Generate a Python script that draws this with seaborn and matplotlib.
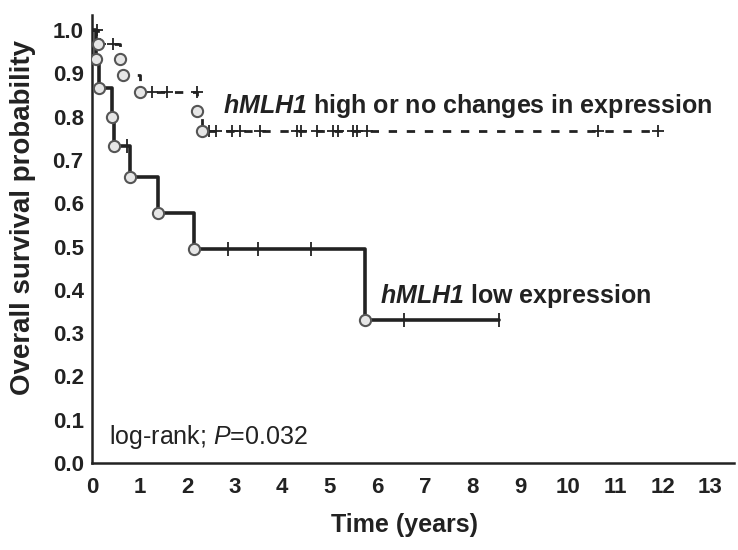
import numpy as np
import pandas as pd
import seaborn as sns
import matplotlib.pyplot as plt

# Kaplan-Meier step points (event times and survival after each event)
low_times = [0.0, 0.08, 0.15, 0.42, 0.47, 0.80, 1.38, 2.15, 5.73]
low_surv = [1.0, 0.933, 0.867, 0.800, 0.733, 0.660, 0.577, 0.495, 0.330]
low_end = 8.55
low_censor = [0.74, 2.85, 3.48, 4.60, 6.55, 8.55]

high_times = [0.0, 0.12, 0.58, 0.66, 1.00, 2.21, 2.32]
high_surv = [1.0, 0.967, 0.933, 0.895, 0.857, 0.814, 0.767]
high_end = 11.9
high_censor = [0.10, 0.17, 0.45, 1.26, 1.58, 2.20, 2.45, 2.60, 2.95, 3.12,
               3.54, 4.32, 4.40, 4.74, 5.07, 5.18, 5.49, 5.58, 5.79, 10.65, 11.9]

x_ticks = list(range(0, 14))
y_ticks = [round(v * 0.1, 1) for v in range(0, 11)]


def step_frame(times, surv, end):
    return pd.DataFrame({"t": list(times) + [end], "s": list(surv) + [surv[-1]]})


def surv_at(times, surv, pts):
    idx = np.searchsorted(times, pts, side="right") - 1
    return [surv[i] for i in idx]


sns.set_theme(style="white")
plt.rcParams["font.family"] = ["Liberation Sans", "DejaVu Sans"]
plt.rcParams["mathtext.fontset"] = "custom"
plt.rcParams["mathtext.rm"] = "Liberation Sans"
plt.rcParams["mathtext.it"] = "Liberation Sans:italic"
# bold-italic gene name
plt.rcParams["mathtext.bf"] = "Liberation Sans:italic:bold"

ink = "#222222"
fig = plt.figure(figsize=(7.38, 5.5), dpi=100)
ax = fig.add_axes([0.1247, 0.158, 0.8699, 0.815])

low_df = step_frame(low_times, low_surv, low_end)
high_df = step_frame(high_times, high_surv, high_end)

sns.lineplot(data=high_df, x="t", y="s", drawstyle="steps-post", estimator=None,
             sort=False, color=ink, lw=2, ax=ax)
ax.lines[-1].set_linestyle((0, (3, 3.5)))
sns.lineplot(data=low_df, x="t", y="s", drawstyle="steps-post", estimator=None,
             sort=False, color=ink, lw=2.6, ax=ax)

# censor marks
sns.scatterplot(x=low_censor, y=surv_at(low_times, low_surv, low_censor),
                marker="|", s=110, color=ink, linewidth=1.3, ax=ax, zorder=4)
sns.scatterplot(x=high_censor, y=surv_at(high_times, high_surv, high_censor),
                marker="+", s=80, color=ink, linewidth=1.3, ax=ax, zorder=4)

# event circles
sns.scatterplot(x=low_times[1:], y=low_surv[1:], marker="o", s=65,
                facecolor="#e6e6e6", edgecolor="#555555", linewidth=1.5, ax=ax, zorder=5)
sns.scatterplot(x=high_times[1:], y=high_surv[1:], marker="o", s=65,
                facecolor="#e6e6e6", edgecolor="#555555", linewidth=1.5, ax=ax, zorder=5)

ax.set_xlim(0, 13.5)
ax.set_ylim(0, 1.035)
ax.set_xticks(x_ticks)
ax.set_yticks(y_ticks)
ax.set_yticklabels([f"{v:.1f}" for v in y_ticks])
for sp in ["top", "right"]:
    ax.spines[sp].set_visible(False)
for sp in ["left", "bottom"]:
    ax.spines[sp].set_color(ink)
    ax.spines[sp].set_linewidth(1.8)
ax.tick_params(axis="both", direction="in", length=3, width=1.2, color=ink,
               labelsize=16, labelcolor=ink)
ax.tick_params(axis="x", pad=10)
ax.tick_params(axis="y", pad=6)
for lbl in ax.get_xticklabels() + ax.get_yticklabels():
    lbl.set_fontweight("bold")

ax.set_xlabel("Time (years)", fontsize=18, fontweight="bold", color=ink)
ax.xaxis.set_label_coords(0.487, -0.112)
ax.set_ylabel("Overall survival probability", fontsize=20, fontweight="bold", color=ink)
ax.yaxis.set_label_coords(-0.087, 0.547)

ax.text(2.75, 0.825, r"$\mathbf{hMLH1}$ high or no changes in expression", fontsize=18,
        fontweight="bold", color=ink, va="center", ha="left")
ax.text(6.05, 0.386, r"$\mathbf{hMLH1}$ low expression", fontsize=18,
        fontweight="bold", color=ink, va="center", ha="left")
ax.text(0.35, 0.06, r"log-rank; $\mathit{P}$=0.032", fontsize=18, color=ink,
        va="center", ha="left")

fig.savefig("out.png", dpi=100)
